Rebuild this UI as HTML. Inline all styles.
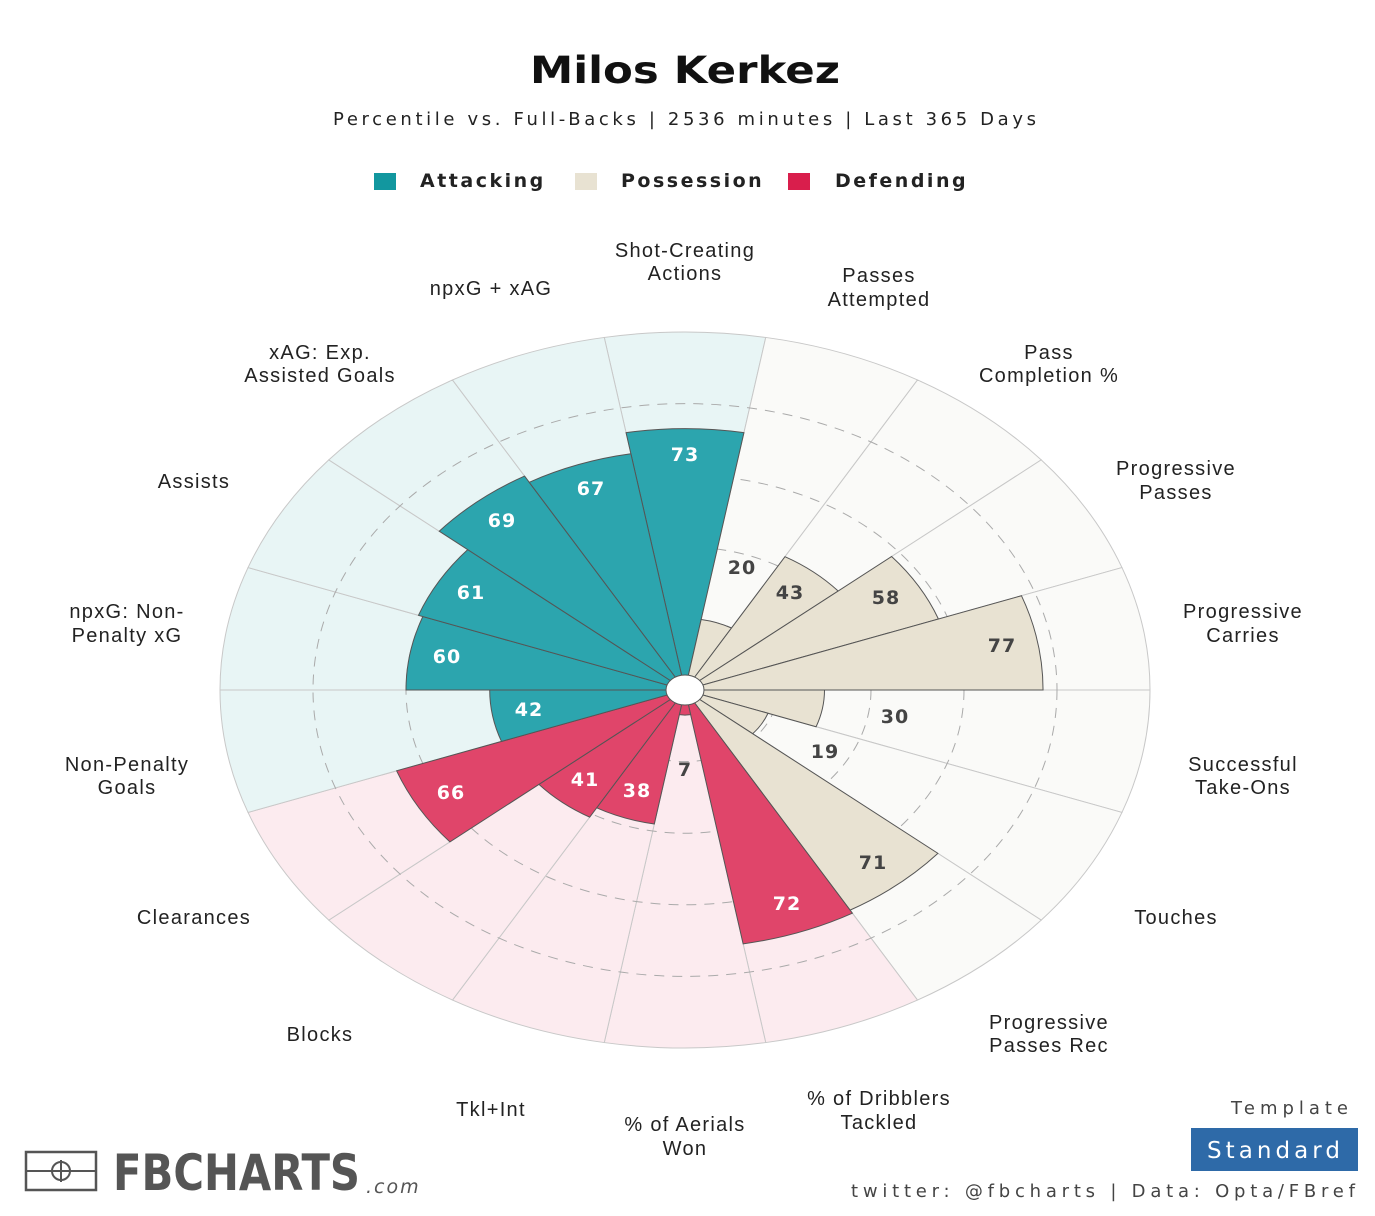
<!DOCTYPE html>
<html><head><meta charset="utf-8"><style>
html,body{margin:0;padding:0;background:#fff;}
svg{display:block;}
text{font-family:"DejaVu Sans","Liberation Sans",sans-serif;}
.cat{font-family:"Liberation Sans",sans-serif;font-size:20px;fill:#222;text-anchor:middle;letter-spacing:1.3px;}
.v{font-size:19px;font-weight:bold;text-anchor:middle;dominant-baseline:central;letter-spacing:1px;}
</style></head><body>
<svg id="s" width="1375" height="1216" viewBox="0 0 1375 1216" xmlns="http://www.w3.org/2000/svg">
<text x="530" y="83" font-size="37" font-weight="bold" fill="#111" textLength="310" lengthAdjust="spacingAndGlyphs">Milos Kerkez</text>
<text x="333" y="125" font-size="18" fill="#222" textLength="703" lengthAdjust="spacing">Percentile vs. Full-Backs | 2536 minutes | Last 365 Days</text>
<rect x="374" y="173" width="22" height="17" fill="#12979f"/>
<text x="420" y="187" font-size="19" font-weight="bold" fill="#222" letter-spacing="2.5">Attacking</text>
<rect x="575" y="173" width="22" height="17" fill="#e8e2d2"/>
<text x="621" y="187" font-size="19" font-weight="bold" fill="#222" letter-spacing="2.5">Possession</text>
<rect x="788" y="173" width="22" height="17" fill="#d91e4c"/>
<text x="835" y="187" font-size="19" font-weight="bold" fill="#222" letter-spacing="2.5">Defending</text>
<g id="chart"></g>
<g id="vals">
<text class="v" x="685" y="455" fill="#fff">73</text>
<text class="v" x="591" y="489" fill="#fff">67</text>
<text class="v" x="502" y="521" fill="#fff">69</text>
<text class="v" x="471" y="593" fill="#fff">61</text>
<text class="v" x="447" y="657" fill="#fff">60</text>
<text class="v" x="529" y="710" fill="#fff">42</text>
<text class="v" x="742" y="568" fill="#444">20</text>
<text class="v" x="790" y="593" fill="#444">43</text>
<text class="v" x="886" y="598" fill="#444">58</text>
<text class="v" x="1002" y="646" fill="#444">77</text>
<text class="v" x="895" y="717" fill="#444">30</text>
<text class="v" x="825" y="752" fill="#444">19</text>
<text class="v" x="873" y="863" fill="#444">71</text>
<text class="v" x="787" y="904" fill="#fff">72</text>
<text class="v" x="685" y="770" fill="#444">7</text>
<text class="v" x="637" y="791" fill="#fff">38</text>
<text class="v" x="585" y="780" fill="#fff">41</text>
<text class="v" x="451" y="793" fill="#fff">66</text>
</g>
<text class="cat" x="685" y="257">Shot-Creating</text><text class="cat" x="685" y="280">Actions</text>
<text class="cat" x="491" y="295">npxG + xAG</text>
<text class="cat" x="879" y="282">Passes</text><text class="cat" x="879" y="306">Attempted</text>
<text class="cat" x="320" y="359">xAG: Exp.</text><text class="cat" x="320" y="382">Assisted Goals</text>
<text class="cat" x="1049" y="359">Pass</text><text class="cat" x="1049" y="382">Completion %</text>
<text class="cat" x="194" y="488">Assists</text>
<text class="cat" x="1176" y="475">Progressive</text><text class="cat" x="1176" y="499">Passes</text>
<text class="cat" x="127" y="618">npxG: Non-</text><text class="cat" x="127" y="642">Penalty xG</text>
<text class="cat" x="1243" y="618">Progressive</text><text class="cat" x="1243" y="642">Carries</text>
<text class="cat" x="127" y="771">Non-Penalty</text><text class="cat" x="127" y="794">Goals</text>
<text class="cat" x="1243" y="771">Successful</text><text class="cat" x="1243" y="794">Take-Ons</text>
<text class="cat" x="194" y="924">Clearances</text>
<text class="cat" x="1176" y="924">Touches</text>
<text class="cat" x="320" y="1041">Blocks</text>
<text class="cat" x="1049" y="1029">Progressive</text><text class="cat" x="1049" y="1052">Passes Rec</text>
<text class="cat" x="491" y="1116">Tkl+Int</text>
<text class="cat" x="879" y="1105">% of Dribblers</text><text class="cat" x="879" y="1129">Tackled</text>
<text class="cat" x="685" y="1131">% of Aerials</text><text class="cat" x="685" y="1155">Won</text>
<rect x="26" y="1152" width="70" height="38" fill="none" stroke="#555" stroke-width="2.5"/>
<line x1="26" y1="1171" x2="96" y2="1171" stroke="#555" stroke-width="2"/>
<circle cx="61" cy="1171" r="9" fill="none" stroke="#555" stroke-width="2"/>
<line x1="61" y1="1160" x2="61" y2="1182" stroke="#555" stroke-width="2"/>
<text x="113" y="1190" font-size="50" font-weight="bold" fill="#555" textLength="247" lengthAdjust="spacingAndGlyphs">FBCHARTS</text>
<text x="366" y="1193" font-size="19" font-style="italic" fill="#555" letter-spacing="2">.com</text>
<text x="1231" y="1114" font-size="18" fill="#444" textLength="117" lengthAdjust="spacing">Template</text>
<rect x="1191" y="1128" width="167" height="43" fill="#2e6aa8"/>
<text x="1207" y="1158" font-size="23" fill="#fff" textLength="133" lengthAdjust="spacing">Standard</text>
<text x="851" y="1197" font-size="18" fill="#444" textLength="504" lengthAdjust="spacing">twitter: @fbcharts | Data: Opta/FBref</text>
</svg>
<script>
(function(){
var cx=685,cy=690,RX=465,RY=358,NS="http://www.w3.org/2000/svg";
var g=document.getElementById("chart");
var d=[[90,73,0],[70,20,1],[50,43,1],[30,58,1],[10,77,1],[-10,30,1],[-30,19,1],[-50,71,1],[-70,72,2],[-90,7,2],[-110,38,2],[-130,41,2],[-150,66,2],[-170,42,0],[170,60,0],[150,61,0],[130,69,0],[110,67,0]];
var bg=["#e8f5f5","#fafaf8","#fcebef"],fg=["#2ca5ae","#e8e2d2","#e0456a"];
function P(a,r){a=a*Math.PI/180;return [cx+RX*r*Math.cos(a),cy-RY*r*Math.sin(a)];}
function wedge(c,r,fill,stroke){
 var a1=c+10,a2=c-10,p1=P(a1,r),p2=P(a2,r);
 var p=document.createElementNS(NS,"path");
 p.setAttribute("d","M"+cx+","+cy+"L"+p1[0]+","+p1[1]+"A"+RX*r+","+RY*r+" 0 0 1 "+p2[0]+","+p2[1]+"Z");
 p.setAttribute("fill",fill);
 if(stroke){p.setAttribute("stroke",stroke);p.setAttribute("stroke-width","1");}
 g.appendChild(p);
}
d.forEach(function(e){wedge(e[0],1,bg[e[2]],"#c8c8c8");});
[0.2,0.4,0.6,0.8].forEach(function(r){
 var el=document.createElementNS(NS,"ellipse");
 el.setAttribute("cx",cx);el.setAttribute("cy",cy);el.setAttribute("rx",RX*r);el.setAttribute("ry",RY*r);
 el.setAttribute("fill","none");el.setAttribute("stroke","#aaa");el.setAttribute("stroke-dasharray","10 8");el.setAttribute("stroke-width","1");
 g.appendChild(el);
});
d.forEach(function(e){wedge(e[0],e[1]/100,fg[e[2]],"#555");});
var c=document.createElementNS(NS,"ellipse");
c.setAttribute("cx",cx);c.setAttribute("cy",cy);c.setAttribute("rx",19);c.setAttribute("ry",15);
c.setAttribute("fill","#fff");c.setAttribute("stroke","#555");g.appendChild(c);
})();
</script>
</body></html>
